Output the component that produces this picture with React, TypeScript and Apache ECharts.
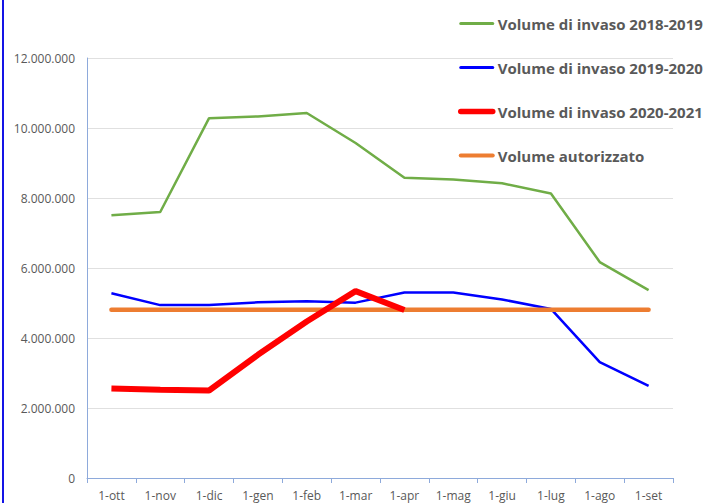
import React, { useEffect, useRef } from "react";
import * as echarts from "echarts";

const categories = ["1-ott", "1-nov", "1-dic", "1-gen", "1-feb", "1-mar", "1-apr", "1-mag", "1-giu", "1-lug", "1-ago", "1-set"];
const vol2018_2019 = [7510000, 7600000, 10280000, 10330000, 10430000, 9570000, 8580000, 8530000, 8420000, 8130000, 6170000, 5370000];
const vol2019_2020 = [5280000, 4940000, 4940000, 5020000, 5050000, 5010000, 5300000, 5300000, 5100000, 4830000, 3310000, 2630000];
const vol2020_2021 = [2560000, 2520000, 2500000, 3520000, 4470000, 5340000, 4800000, null, null, null, null, null];
const volAutorizzato = [4810000, 4810000, 4810000, 4810000, 4810000, 4810000, 4810000, 4810000, 4810000, 4810000, 4810000, 4810000];
const seriesNames = ["Volume di invaso 2018-2019", "Volume di invaso 2019-2020", "Volume di invaso 2020-2021", "Volume autorizzato"];
const legendWidths = [3, 3, 5.5, 4];

const fmt = (v: number) => String(Math.round(v)).replace(/\B(?=(\d{3})+(?!\d))/g, ".");

export default function App() {
  const ref = useRef<HTMLDivElement>(null);
  useEffect(() => {
    if (!ref.current) return;
    const chart = echarts.init(ref.current, undefined, { renderer: "svg" });
    const textColor = "#595959";
    chart.setOption({
      animation: false,
      backgroundColor: "#ffffff",
      grid: { left: 87, top: 58, right: 35, bottom: 25, containLabel: false },
      legend: {
        orient: "vertical",
        left: 453,
        top: 11,
        itemWidth: 32,
        itemHeight: 14,
        itemGap: 29,
        textStyle: { color: textColor, fontFamily: "Open Sans", fontWeight: "bold", fontSize: 15 },
        data: seriesNames.map((n, i) => ({ name: n, itemStyle: { opacity: 0 }, lineStyle: { width: legendWidths[i], cap: "round" } })),
      },
      xAxis: {
        type: "category",
        data: categories,
        boundaryGap: true,
        axisLine: { lineStyle: { color: "#8eaadb", width: 1 } },
        axisTick: { show: true, length: 5, lineStyle: { color: "#8eaadb" } },
        axisLabel: { color: textColor, fontSize: 12, fontFamily: "Open Sans", margin: 11 },
        splitLine: { show: false },
      },
      yAxis: {
        type: "value",
        min: 0,
        max: 12000000,
        interval: 2000000,
        axisLine: { show: true, lineStyle: { color: "#8eaadb", width: 1 } },
        axisTick: { show: false },
        axisLabel: { color: textColor, fontSize: 12, fontFamily: "Open Sans", margin: 12, formatter: (v: number) => fmt(v) },
        splitLine: { lineStyle: { color: "#e0e0e0", width: 1 } },
      },
      series: [
        {
          name: seriesNames[0], type: "line", data: vol2018_2019, symbol: "none",
          lineStyle: { color: "#70ad47", width: 2.5 }, itemStyle: { color: "#70ad47" }, z: 3,
        },
        {
          name: seriesNames[1], type: "line", data: vol2019_2020, symbol: "none",
          lineStyle: { color: "#0000ff", width: 2.5 }, itemStyle: { color: "#0000ff" }, z: 3,
        },
        {
          name: seriesNames[2], type: "line", data: vol2020_2021, symbol: "none",
          lineStyle: { color: "#ff0000", width: 6 }, itemStyle: { color: "#ff0000" }, z: 5,
        },
        {
          name: seriesNames[3], type: "line", data: volAutorizzato, symbol: "none",
          lineStyle: { color: "#ed7d31", width: 4.5, cap: "round" }, itemStyle: { color: "#ed7d31" }, z: 4,
        },
      ],
      graphic: [
        { type: "rect", shape: { x: 2, y: 0, width: 2, height: 503 }, style: { fill: "#1414e6" }, silent: true },
      ],
    });
    return () => chart.dispose();
  }, []);
  return <div ref={ref} style={{ width: 708, height: 503, position: "fixed", left: 0, top: 0 }} />;
}
